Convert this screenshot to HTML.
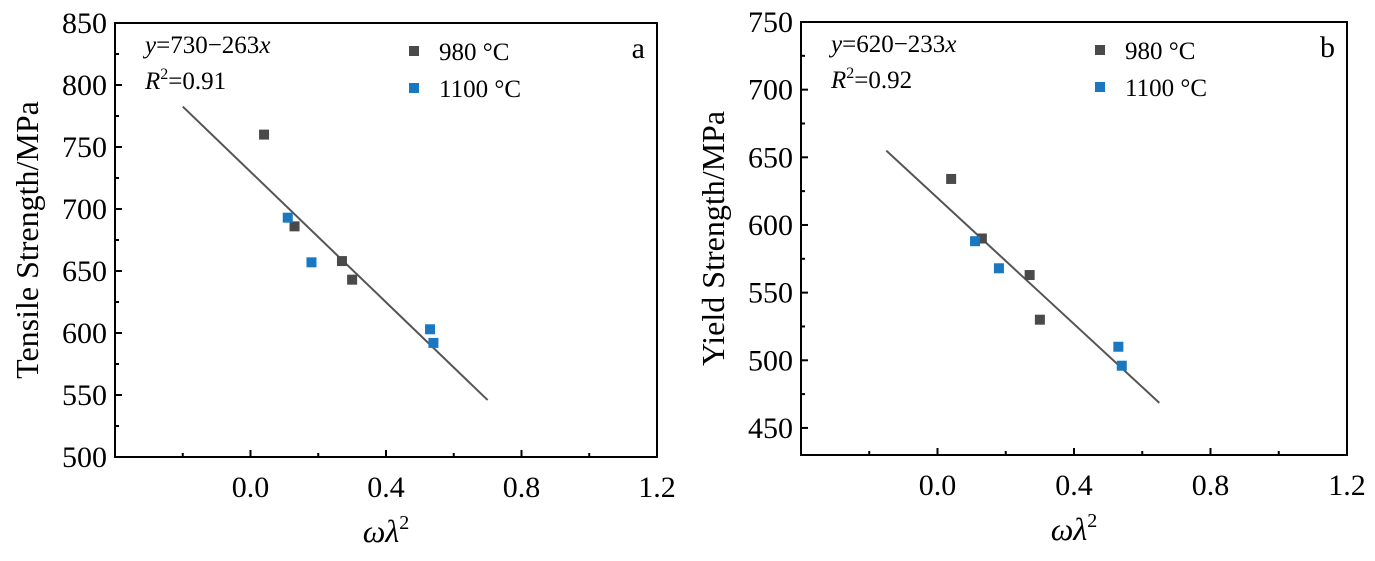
<!DOCTYPE html>
<html><head><meta charset="utf-8"><style>
html,body{margin:0;padding:0;background:#fff;}
svg, svg text{font-family:"Liberation Serif","Times New Roman",serif;}
</style></head><body>
<svg id="s" width="1375" height="556" xmlns="http://www.w3.org/2000/svg" font-family="Liberation Serif, serif"></svg>
<script>
const s=document.getElementById('s');let h='';
function chart(o){
  const {L,R,T,B,ymin,ymax,xmin,xmax}=o;
  const X=v=>L+(v-xmin)/(xmax-xmin)*(R-L), Y=v=>B-(v-ymin)/(ymax-ymin)*(B-T);
  h+=`<rect x="${L}" y="${T}" width="${R-L}" height="${B-T}" fill="none" stroke="#000" stroke-width="2"/>`;
  for(let v=Math.ceil(ymin/25)*25;v<=ymax+0.01;v+=25){const y=Y(v);const maj=v%50==0;
    h+=`<line x1="${L}" x2="${L+(maj?7:4)}" y1="${y}" y2="${y}" stroke="#000" stroke-width="2"/>`;
    if(maj) h+=`<text x="${L-8}" y="${y+10}" font-size="30" text-anchor="end" font-family="Liberation Serif, serif">${v}</text>`;}
  for(let i=0;i<=8;i++){const v=xmin+i*0.2;const x=X(v);const maj=i%2==0;
    h+=`<line x1="${x}" x2="${x}" y1="${B}" y2="${B-(maj?7:4)}" stroke="#000" stroke-width="2"/>`;
    if(maj&&i>0) h+=`<text x="${x}" y="${B+40}" font-size="30" text-anchor="middle" font-family="Liberation Serif, serif">${v.toFixed(1)}</text>`;}
  h+=`<line x1="${X(o.l[0])}" y1="${Y(o.a-o.b*o.l[0])}" x2="${X(o.l[1])}" y2="${Y(o.a-o.b*o.l[1])}" stroke="#555" stroke-width="2"/>`;
  o.g.forEach(p=>h+=`<rect x="${X(p[0])-5}" y="${Y(p[1])-5}" width="10" height="10" fill="#4a4a4a"/>`);
  o.bl.forEach(p=>h+=`<rect x="${X(p[0])-5}" y="${Y(p[1])-5}" width="10" height="10" fill="#1a78c2"/>`);
  h+=`<text x="${L+30}" y="${T+30}" font-size="25" font-family="Liberation Serif, serif"><tspan font-style="italic">y</tspan>=${o.a}−${o.b}<tspan font-style="italic">x</tspan></text>`;
  h+=`<text x="${L+30}" y="${T+66}" font-size="25" font-family="Liberation Serif, serif"><tspan font-style="italic">R</tspan><tspan font-size="16" dy="-10">2</tspan><tspan dy="10">=${o.r}</tspan></text>`;
  const lx=L+294;
  h+=`<rect x="${lx}" y="${T+23}" width="10" height="10" fill="#4a4a4a"/><text x="${lx+30}" y="${T+37}" font-size="25" font-family="Liberation Serif, serif">980 °C</text>`;
  h+=`<rect x="${lx}" y="${T+60}" width="10" height="10" fill="#1a78c2"/><text x="${lx+30}" y="${T+74}" font-size="25" font-family="Liberation Serif, serif">1100 °C</text>`;
  h+=`<text x="${R-12}" y="${T+35}" font-size="30" text-anchor="end" font-family="Liberation Serif, serif">${o.lab}</text>`;
  h+=`<text x="${(L+R)/2}" y="${B+85}" font-size="32" text-anchor="middle" font-style="italic" font-family="Liberation Serif, serif">ωλ<tspan font-size="20" dy="-13" font-style="normal">2</tspan></text>`;
  h+=`<text transform="translate(${o.yt},${(T+B)/2}) rotate(-90)" font-size="32" text-anchor="middle" font-family="Liberation Serif, serif">${o.ytitle}</text>`;
}
chart({L:115,R:657,T:23,B:457,ymin:500,ymax:850,xmin:-0.4,xmax:1.2,a:730,b:263,r:'0.91',l:[-0.2,0.7],
 g:[[0.04,760],[0.13,686],[0.27,658],[0.30,643]],bl:[[0.11,693],[0.18,657],[0.53,603],[0.54,592]],lab:'a',ytitle:'Tensile Strength/MPa',yt:38});
chart({L:801,R:1347,T:22,B:455,ymin:430,ymax:750,xmin:-0.4,xmax:1.2,a:620,b:233,r:'0.92',l:[-0.15,0.65],
 g:[[0.04,634],[0.13,590],[0.27,563],[0.30,530]],bl:[[0.11,588],[0.18,568],[0.53,510],[0.54,496]],lab:'b',ytitle:'Yield Strength/MPa',yt:724});
s.innerHTML=h;
</script>
</body></html>
